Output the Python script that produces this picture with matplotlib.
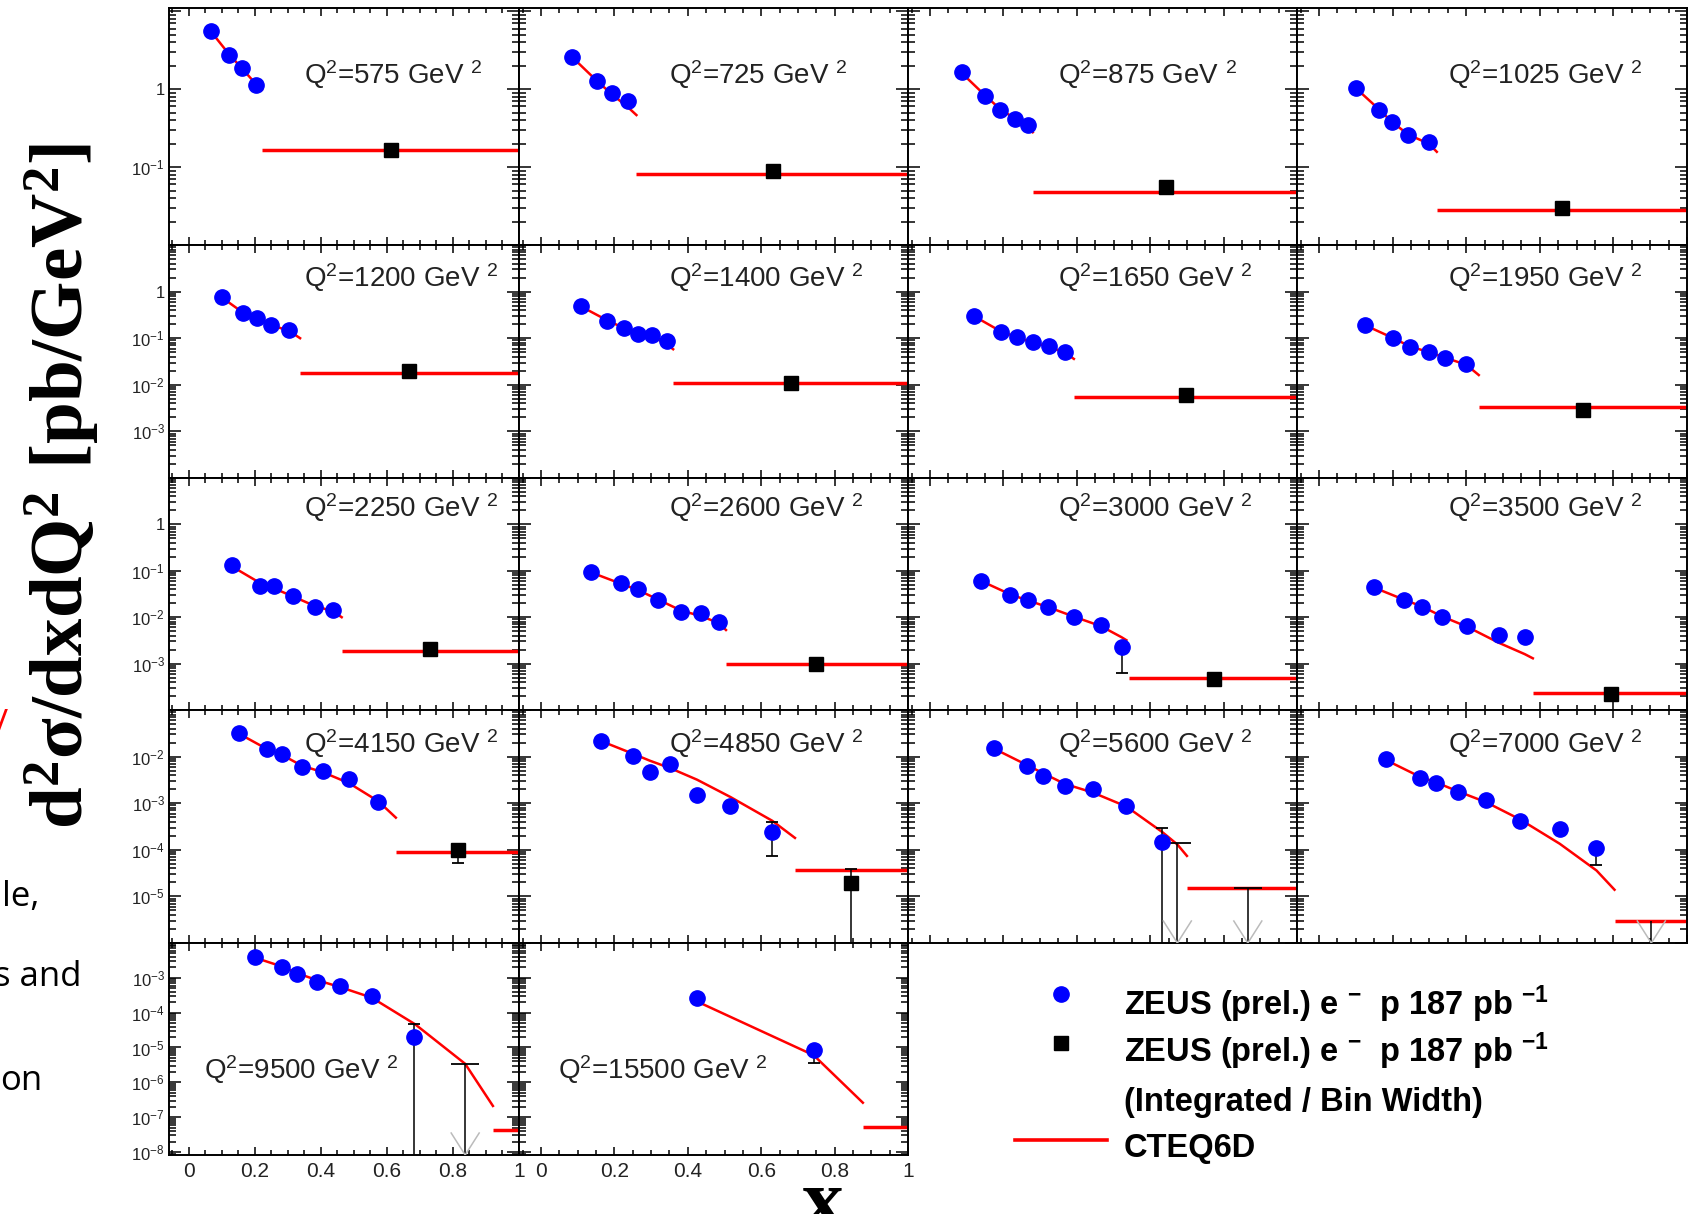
import numpy as np
import matplotlib
matplotlib.use("Agg")
import matplotlib.pyplot as plt
from matplotlib.ticker import MultipleLocator, LogLocator, FuncFormatter, NullFormatter
from matplotlib.transforms import blended_transform_factory

# ---------------------------------------------------------------- data
q2_values = [575, 725, 875, 1025, 1200, 1400, 1650, 1950, 2250, 2600,
             3000, 3500, 4150, 4850, 5600, 7000, 9500, 15500]

blue_x = [
    [0.067, 0.122, 0.161, 0.204],
    [0.084, 0.152, 0.193, 0.238],
    [0.087, 0.149, 0.190, 0.231, 0.266],
    [0.101, 0.163, 0.198, 0.243, 0.298],
    [0.101, 0.165, 0.205, 0.250, 0.303],
    [0.109, 0.181, 0.226, 0.265, 0.302, 0.342],
    [0.119, 0.193, 0.237, 0.281, 0.325, 0.369],
    [0.125, 0.202, 0.248, 0.300, 0.343, 0.400],
    [0.130, 0.215, 0.257, 0.316, 0.381, 0.436],
    [0.137, 0.217, 0.263, 0.319, 0.381, 0.437, 0.484],
    [0.140, 0.219, 0.266, 0.322, 0.392, 0.466, 0.522],
    [0.148, 0.230, 0.280, 0.333, 0.403, 0.489, 0.559],
    [0.152, 0.237, 0.283, 0.342, 0.407, 0.485, 0.574],
    [0.164, 0.252, 0.296, 0.351, 0.425, 0.516, 0.630],
    [0.173, 0.264, 0.308, 0.367, 0.443, 0.535, 0.633],
    [0.181, 0.274, 0.318, 0.377, 0.454, 0.546, 0.654, 0.754],
    [0.200, 0.283, 0.329, 0.388, 0.459, 0.554, 0.681],
    [0.425, 0.743],
]
blue_y = [
    [5.6, 2.74, 1.87, 1.13],
    [2.6, 1.28, 0.88, 0.71],
    [1.65, 0.82, 0.54, 0.42, 0.346],
    [1.04, 0.54, 0.375, 0.258, 0.207],
    [0.766, 0.34, 0.277, 0.192, 0.151],
    [0.49, 0.238, 0.168, 0.123, 0.117, 0.087],
    [0.305, 0.137, 0.105, 0.081, 0.069, 0.05],
    [0.192, 0.103, 0.064, 0.05, 0.038, 0.0275],
    [0.133, 0.046, 0.048, 0.029, 0.0162, 0.0145],
    [0.094, 0.055, 0.04, 0.0235, 0.013, 0.0123, 0.0077],
    [0.0615, 0.0307, 0.0235, 0.017, 0.01, 0.0069, 0.0023],
    [0.0448, 0.0235, 0.017, 0.01, 0.0065, 0.0042, 0.0038],
    [0.032, 0.0144, 0.0116, 0.0059, 0.0048, 0.0033, 0.00105],
    [0.0215, 0.0102, 0.0046, 0.007, 0.0015, 0.00088, 0.000246],
    [0.0155, 0.0063, 0.0039, 0.0023, 0.002, 0.00088, 0.000146],
    [0.0087, 0.0034, 0.0027, 0.0017, 0.00115, 0.00042, 0.00028, 0.00011],
    [0.004, 0.00198, 0.00129, 0.00078, 0.00058, 0.00031, 2.06e-5],
    [2.7e-4, 8.3e-6],
]

# CTEQ6D prediction (curve up to the start of the integrated bin)
theory_x = [
    [0.067, 0.122, 0.161, 0.204, 0.221],
    [0.084, 0.152, 0.193, 0.238, 0.260],
    [0.087, 0.149, 0.190, 0.231, 0.266, 0.280],
    [0.101, 0.163, 0.198, 0.243, 0.298, 0.320],
    [0.101, 0.165, 0.205, 0.250, 0.303, 0.337],
    [0.109, 0.181, 0.226, 0.265, 0.302, 0.342, 0.360],
    [0.119, 0.193, 0.237, 0.281, 0.325, 0.369, 0.392],
    [0.125, 0.202, 0.248, 0.300, 0.343, 0.400, 0.434],
    [0.130, 0.215, 0.257, 0.316, 0.381, 0.436, 0.463],
    [0.137, 0.217, 0.263, 0.319, 0.381, 0.437, 0.484, 0.504],
    [0.140, 0.219, 0.266, 0.322, 0.392, 0.466, 0.522, 0.535],
    [0.148, 0.230, 0.280, 0.333, 0.403, 0.489, 0.559, 0.581],
    [0.152, 0.237, 0.283, 0.342, 0.407, 0.485, 0.574, 0.627],
    [0.164, 0.252, 0.296, 0.351, 0.425, 0.516, 0.630, 0.692],
    [0.173, 0.264, 0.308, 0.367, 0.443, 0.535, 0.633, 0.674, 0.700],
    [0.181, 0.274, 0.318, 0.377, 0.454, 0.546, 0.654, 0.754, 0.803],
    [0.200, 0.283, 0.329, 0.388, 0.459, 0.554, 0.686, 0.837, 0.921],
    [0.425, 0.743, 0.877],
]
theory_y = [
    [5.5, 2.8, 1.85, 1.15, 0.98],
    [2.6, 1.28, 0.86, 0.58, 0.465],
    [1.6, 0.84, 0.56, 0.42, 0.33, 0.28],
    [1.02, 0.55, 0.38, 0.26, 0.2, 0.157],
    [0.74, 0.35, 0.27, 0.19, 0.145, 0.1],
    [0.48, 0.24, 0.165, 0.125, 0.11, 0.075, 0.058],
    [0.3, 0.14, 0.105, 0.08, 0.066, 0.048, 0.036],
    [0.19, 0.1, 0.066, 0.05, 0.038, 0.027, 0.0162],
    [0.125, 0.055, 0.042, 0.028, 0.0175, 0.0135, 0.01],
    [0.092, 0.053, 0.039, 0.024, 0.014, 0.0105, 0.0075, 0.0053],
    [0.06, 0.031, 0.023, 0.0165, 0.0103, 0.0064, 0.0037, 0.0032],
    [0.044, 0.024, 0.017, 0.0105, 0.0062, 0.0028, 0.0016, 0.0013],
    [0.031, 0.0145, 0.0108, 0.0064, 0.0046, 0.0027, 0.0011, 0.00049],
    [0.0215, 0.0114, 0.0082, 0.0057, 0.0032, 0.00136, 0.00042, 0.00018],
    [0.015, 0.0066, 0.0044, 0.0026, 0.0017, 0.00085, 0.00024, 0.00013, 7.4e-5],
    [0.0085, 0.0037, 0.0028, 0.0018, 0.00105, 0.00045, 0.000135, 3.6e-5, 1.39e-5],
    [0.0038, 0.0021, 0.00135, 0.00086, 0.00054, 0.00027, 4.6e-5, 3.4e-6, 2.1e-7],
    [2.1e-4, 6e-6, 2.6e-7],
]

# integrated highest-x bin: lower edge, CTEQ6D value, measured point
int_x_low = [0.221, 0.26, 0.28, 0.32, 0.337, 0.36, 0.392, 0.434, 0.463,
             0.504, 0.541, 0.581, 0.627, 0.692, 0.70, 0.803, 0.921, 0.877]
int_theory = [0.165, 0.081, 0.048, 0.028, 0.0175, 0.0108, 0.0056, 0.0033,
              0.0019, 0.00096, 0.0005, 0.00023, 9.1e-5, 3.6e-5, 1.5e-5,
              2.9e-6, 4.4e-8, 5.1e-8]
int_x = [0.613, 0.633, 0.642, 0.661, 0.668, 0.681, 0.697, 0.718, 0.73,
         0.75, 0.775, 0.793, 0.814, 0.845, np.nan, np.nan, np.nan, np.nan]
int_y = [0.168, 0.09, 0.056, 0.0295, 0.0202, 0.0111, 0.0059, 0.0029, 0.0021,
         0.001, 0.00046, 0.00022, 1.0e-4, 1.9e-5, np.nan, np.nan, np.nan, np.nan]

# visible error bars (low = 0 means below the axis range)
err_panel = [10, 13, 14, 15, 16, 17, 12, 13]
err_x = [0.522, 0.630, 0.633, 0.754, 0.681, 0.743, 0.814, 0.845]
err_y = [0.0023, 0.000246, 0.000146, 0.00011, 2.06e-5, 8.3e-6, 1.0e-4, 1.9e-5]
err_low = [6.2e-4, 7.2e-5, 0, 4.8e-5, 0, 3.6e-6, 5.1e-5, 0]
err_high = [0.0023, 4.0e-4, 3.0e-4, 0.00011, 4.8e-5, 8.3e-6, 1.0e-4, 3.8e-5]

# upper limits (no central value)
ul_panel = [14, 14, 15, 16]
ul_x = [0.674, 0.866, 0.903, 0.837]
ul_high = [1.4e-4, 1.5e-5, 2.9e-6, 3.3e-6]
ul_cap = [True, True, False, True]

# ---------------------------------------------------------------- layout
FIG_W, FIG_H = 1689, 1214
col_edges = [169, 519, 908, 1297, 1687]
row_edges = [8, 245, 478, 710, 943, 1155]
row_ylim = [(1e-2, 11), (1e-4, 10), (1e-4, 10), (1e-6, 1e-1), (8.2e-9, 1e-2)]
row_label_decades = [(-1, 0), (-3, 0), (-3, 0), (-5, -2), (-8, -3)]
row_q2_y = [0.717, 0.858, 0.873, 0.857, 0.403]
X_MIN, X_MAX = -0.06, 1.0

plt.rcParams.update({
    'font.family': ['Liberation Sans', 'DejaVu Sans'],
    'mathtext.fontset': 'custom',
    'mathtext.rm': 'Liberation Sans',
    'mathtext.it': 'Liberation Sans:italic',
    'mathtext.bf': 'Liberation Sans:bold',
    'mathtext.sf': 'Liberation Serif:bold',
    'axes.linewidth': 1.4,
})

fig = plt.figure(figsize=(FIG_W / 100, FIG_H / 100), dpi=100)


def panel_rect(r, c):
    x0, x1 = col_edges[c], col_edges[c + 1]
    y0, y1 = row_edges[r], row_edges[r + 1]
    return [x0 / FIG_W, 1 - y1 / FIG_H, (x1 - x0) / FIG_W, (y1 - y0) / FIG_H]


def decade_label(v, lo, hi):
    if v <= 0:
        return ''
    d = int(round(np.log10(v)))
    if abs(np.log10(v) - d) > 1e-6 or d < lo or d > hi:
        return ''
    return '1' if d == 0 else r'$10^{%d}$' % d


axes = []
for i, q2 in enumerate(q2_values):
    r, c = divmod(i, 4)
    ax = fig.add_axes(panel_rect(r, c))
    axes.append(ax)
    ax.set_yscale('log')
    ax.set_xlim(X_MIN, X_MAX)
    ax.set_ylim(*row_ylim[r])
    ax.xaxis.set_major_locator(MultipleLocator(0.2))
    ax.xaxis.set_minor_locator(MultipleLocator(0.05))
    ax.yaxis.set_major_locator(LogLocator(base=10, numticks=30))
    ax.yaxis.set_minor_locator(LogLocator(base=10, subs=np.arange(2, 10), numticks=30))
    ax.tick_params(which='both', direction='in', top=True, right=True, width=1.1)
    ax.tick_params(axis='x', which='major', length=6)
    ax.tick_params(axis='x', which='minor', length=3.5)
    ax.tick_params(axis='y', which='major', length=8.5)
    ax.tick_params(axis='y', which='minor', length=5)
    ax.tick_params(axis='y', labelsize=12, pad=3, labelcolor='#222222')
    ax.tick_params(axis='x', labelsize=15, pad=5, labelcolor='#222222')
    if c == 0:
        lo_d, hi_d = row_label_decades[r]
        ax.yaxis.set_major_formatter(
            FuncFormatter(lambda v, p, lo=lo_d, hi=hi_d: decade_label(v, lo, hi)))
    else:
        ax.yaxis.set_major_formatter(NullFormatter())
    ax.yaxis.set_minor_formatter(NullFormatter())
    if r == 4:
        ax.xaxis.set_major_formatter(FuncFormatter(lambda v, p: '%g' % (round(v, 2) + 0.0)))
    else:
        ax.xaxis.set_major_formatter(NullFormatter())

    # theory
    ax.plot(theory_x[i], theory_y[i], color='#ff0000', lw=1.8, zorder=2)
    ax.hlines(int_theory[i], int_x_low[i], X_MAX, colors='#ff0000', lw=2.5, zorder=2)
    # data
    ax.plot(blue_x[i], blue_y[i], 'o', color='#0000ff', ms=11, mec='#0000ff', zorder=5)
    if not np.isnan(int_x[i]):
        ax.plot([int_x[i]], [int_y[i]], 's', color='black', ms=10, zorder=5)

    # label
    tr = blended_transform_factory(ax.transData, ax.transAxes)
    qx = 0.35 if r < 4 else 0.045
    ax.text(qx, row_q2_y[r], r'Q$^{2}$=%d GeV $^{2}$' % q2, transform=tr,
            fontsize=20, color='#222222', ha='left', va='center')

# error bars
for p, x, y, lo, hi in zip(err_panel, err_x, err_y, err_low, err_high):
    ax = axes[p]
    ybot = ax.get_ylim()[0]
    lo_v = lo if lo > 0 else ybot * 0.5
    ax.vlines(x, lo_v, hi, colors='black', lw=1.1, zorder=3)
    if lo > 0:
        ax.plot([x], [lo], marker='_', ms=9, mew=1.3, color='black', zorder=3)
    if hi > y:
        ax.plot([x], [hi], marker='_', ms=9, mew=1.3, color='black', zorder=3)

# upper limits with grey V at the bottom
for p, x, hi, cap in zip(ul_panel, ul_x, ul_high, ul_cap):
    ax = axes[p]
    r, c = divmod(p, 4)
    ybot = ax.get_ylim()[0]
    ax.vlines(x, ybot * 0.5, hi, colors='black', lw=1.1, zorder=3)
    if cap:
        ax.plot([x], [hi], marker='_', ms=20, mew=1.3, color='black', zorder=3)
    ppu = (col_edges[c + 1] - col_edges[c]) / (X_MAX - X_MIN)
    hpx = row_edges[r + 1] - row_edges[r]
    dx = 14 / ppu
    h = 22 / hpx
    tr = blended_transform_factory(ax.transData, ax.transAxes)
    ax.plot([x - dx, x, x + dx], [h, 0, h], color='#bbbbbb', lw=1.1,
            transform=tr, zorder=3)

# ---------------------------------------------------------------- overlay texts
lax = fig.add_axes([0, 0, 1, 1], zorder=10)
lax.set_xlim(0, FIG_W)
lax.set_ylim(FIG_H, 0)
lax.axis('off')

# legend
lax.plot([1061], [994], 'o', color='#0000ff', ms=11)
lax.plot([1061], [1043], 's', color='black', ms=10)
lax.plot([1015, 1107], [1140, 1140], color='#ff0000', lw=2.6)
leg_fs = 23.5
lax.text(1124, 1004, r'ZEUS (prel.) e $^{\mathbf{-}}$  p 187 pb $^{\mathbf{-1}}$',
         fontsize=leg_fs, fontweight='bold', va='center', ha='left')
lax.text(1124, 1051, r'ZEUS (prel.) e $^{\mathbf{-}}$  p 187 pb $^{\mathbf{-1}}$',
         fontsize=leg_fs, fontweight='bold', va='center', ha='left')
lax.text(1124, 1102, '(Integrated / Bin Width)',
         fontsize=leg_fs, fontweight='bold', va='center', ha='left')
lax.text(1124, 1149, 'CTEQ6D',
         fontsize=leg_fs, fontweight='bold', va='center', ha='left')

# axis titles
lax.text(62, 486, r'$\mathsf{d^2σ/dxdQ^2\ [pb/GeV^2]}$', rotation=90,
         fontsize=54, ha='center', va='center')
lax.text(823, 1226, r'$\mathsf{x}$', fontsize=60, ha='center', va='baseline')

# fragments of the surrounding slide at the left edge
lax.text(1, 735, '/', color='#ff0000', fontsize=26, family='Open Sans',
         ha='center', va='baseline')
lax.text(39, 906, 'le,', fontsize=25, family='Open Sans', ha='right', va='baseline')
lax.text(82, 986, 's and', fontsize=25, family='Open Sans', ha='right', va='baseline')
lax.text(42, 1090, 'on', fontsize=25, family='Open Sans', ha='right', va='baseline')

fig.savefig('out.png', dpi=100)
